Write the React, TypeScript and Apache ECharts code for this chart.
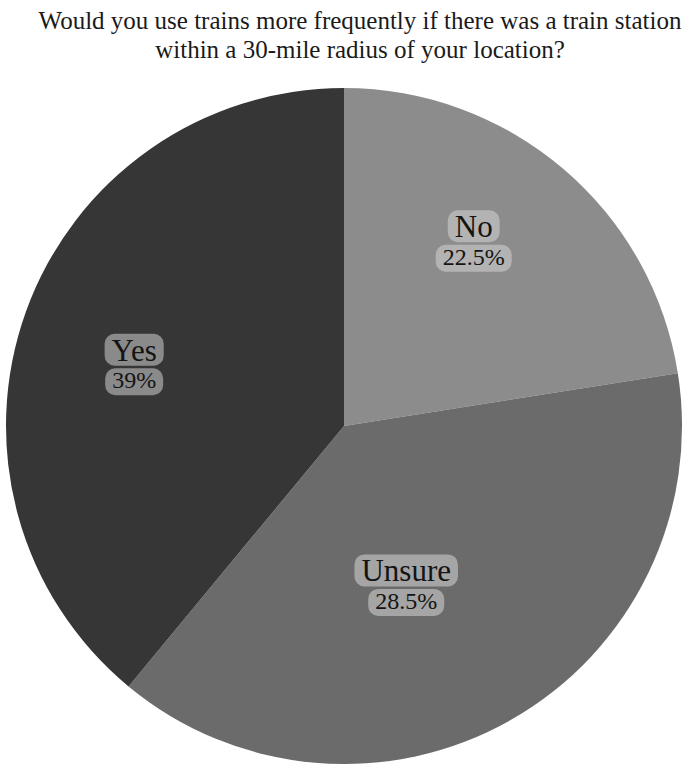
import React, { useEffect, useRef } from "react";
import * as echarts from "echarts";

const titleLines = [
  "Would you use trains more frequently if there was a train station",
  "within a 30-mile radius of your location?",
];
const categories = ["No", "Unsure", "Yes"];
// slice sizes as drawn (angles in the picture)
const values = [22.5, 38.5, 39];
// percentage texts as printed on the labels
const labelPercents = ["22.5%", "28.5%", "39%"];
const sliceColors = ["#8c8c8c", "#6b6b6b", "#363636"];
const haloColors = ["#b3b3b3", "#a5a5a5", "#8a8a8a"];
const labelOffsets = [
  [18, -54],
  [-23, 10],
  [-48, -3],
];

export default function App() {
  const ref = useRef<HTMLDivElement>(null);
  useEffect(() => {
    if (!ref.current) return;
    const chart = echarts.init(ref.current, undefined, { renderer: "svg" });
    const font = "Liberation Serif";
    chart.setOption({
      animation: false,
      backgroundColor: "#ffffff",
      title: {
        text: titleLines.join("\n"),
        left: 355,
        top: 1,
        textAlign: "center",
        textStyle: {
          fontFamily: font,
          fontSize: 25,
          fontWeight: "normal",
          color: "#1a1a1a",
          lineHeight: 29,
        },
      },
      series: [
        {
          type: "pie",
          center: [344, 426],
          radius: [0, 338],
          startAngle: 90,
          clockwise: true,
          silent: true,
          labelLine: { show: false },
          itemStyle: { borderWidth: 0 },
          data: categories.map((name, i) => ({
            name,
            value: values[i],
            itemStyle: { color: sliceColors[i] },
            label: {
              show: true,
              position: "inside",
              offset: labelOffsets[i],
              fontFamily: font,
              formatter: () => `{n|${name}}\n{p|${labelPercents[i]}}`,
              rich: {
                n: {
                  fontFamily: font,
                  fontSize: 31,
                  color: "#141414",
                  lineHeight: 34,
                  backgroundColor: haloColors[i],
                  borderRadius: 10,
                  padding: [1, 7, 0, 7],
                  align: "center",
                },
                p: {
                  fontFamily: font,
                  fontSize: 24,
                  color: "#141414",
                  lineHeight: 30,
                  backgroundColor: haloColors[i],
                  borderRadius: 10,
                  padding: [0, 7, 3, 7],
                  align: "center",
                },
              },
            },
          })),
        },
      ],
    });
    return () => chart.dispose();
  }, []);
  return (
    <div
      ref={ref}
      style={{ position: "fixed", left: 0, top: 0, width: 686, height: 766 }}
    />
  );
}
